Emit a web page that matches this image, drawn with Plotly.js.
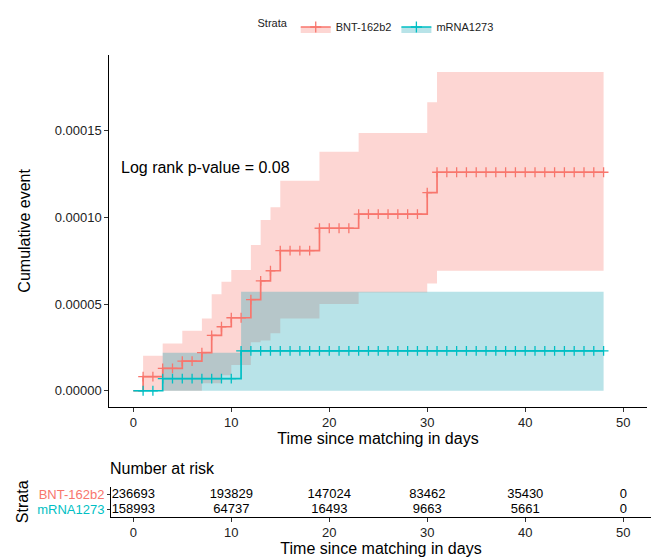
<!DOCTYPE html>
<html>
<head>
<meta charset="utf-8">
<script src="https://cdn.plot.ly/plotly-3.0.1.min.js"></script>
<style>html,body{margin:0;padding:0;background:#fff;}#chart{width:651px;height:560px;}</style>
</head>
<body>
<div id="chart"></div>
<script>
// ---- Data ----
const groups = ["BNT-162b2", "mRNA1273"];
const colors = ["#F8766D", "#00BFC4"];

// cumulative event step curves (event times, values after the step)
const bntTimes  = [0, 1, 3, 5, 7, 8, 9, 10, 12, 13, 14, 15, 19, 23, 30, 31, 48];
const bntValues = [0, 8.1e-6, 1.29e-5, 1.71e-5, 2.2e-5, 3.19e-5, 3.69e-5, 4.21e-5, 5.26e-5, 6.34e-5, 6.92e-5, 8.08e-5, 9.37e-5, 1.019e-4, 1.142e-4, 1.26e-4, 1.26e-4];
const bntUpper  = [0, 2.02e-5, 2.73e-5, 3.46e-5, 4.17e-5, 5.56e-5, 6.29e-5, 6.96e-5, 8.4e-5, 9.84e-5, 1.058e-4, 1.211e-4, 1.378e-4, 1.486e-4, 1.663e-4, 1.838e-4, 1.838e-4];
const bntLower  = [0, 0, 0, 0, 4.3e-6, 4.3e-6, 9e-6, 1.48e-5, 2.8e-5, 2.9e-5, 3.31e-5, 4.17e-5, 5.0e-5, 5.67e-5, 6.19e-5, 6.92e-5, 6.92e-5];

const mrnaTimes  = [0, 3, 11, 48];
const mrnaValues = [0, 7e-6, 2.3e-5, 2.3e-5];
const mrnaUpper  = [0, 2.19e-5, 5.71e-5, 5.71e-5];
const mrnaLower  = [0, 0, 0, 0];

// censoring marks (days)
const bntCensor  = [1,2,3,4,5,6,7,8,9,10,11,12,13,14,15,16,17,18,19,20,21,22,23,24,25,26,27,28,29,30,31,32,33,34,35,36,37,38,39,40,41,42,43,44,45,46,47,48];
const mrnaCensor = [1,2,3,4,5,6,7,8,9,10,11,12,13,14,15,16,17,18,19,20,21,22,23,24,25,26,27,28,29,30,31,32,33,34,35,36,37,38,39,40,41,42,43,44,45,46,47,48];

// number at risk table
const riskTimes = [0, 10, 20, 30, 40, 50];
const bntRisk  = [236693, 193829, 147024, 83462, 35430, 0];
const mrnaRisk = [158993, 64737, 16493, 9663, 5661, 0];

const pvalText = "Log rank p-value = 0.08";

// ---- helpers ----
function stepAt(times, vals, t) {
  let v = vals[0];
  for (let i = 0; i < times.length; i++) { if (times[i] <= t) v = vals[i]; }
  return v;
}

const FONT = "Liberation Sans, Arial, sans-serif";
const bandFill = ["rgba(248,118,109,0.3)", "rgba(20,162,180,0.3)"];

const traces = [];
function addBand(times, lo, up, i) {
  traces.push({x: times, y: lo, type: "scatter", mode: "lines", line: {width: 0, shape: "hv"},
    showlegend: false, hoverinfo: "skip"});
  traces.push({x: times, y: up, type: "scatter", mode: "lines", line: {width: 0, shape: "hv"},
    fill: "tonexty", fillcolor: bandFill[i], showlegend: false, hoverinfo: "skip"});
}
addBand(bntTimes, bntLower, bntUpper, 0);
addBand(mrnaTimes, mrnaLower, mrnaUpper, 1);

traces.push({x: bntTimes, y: bntValues, type: "scatter", mode: "lines",
  line: {color: colors[0], width: 1.7, shape: "hv"}, showlegend: false});
traces.push({x: mrnaTimes, y: mrnaValues, type: "scatter", mode: "lines",
  line: {color: colors[1], width: 1.7, shape: "hv"}, showlegend: false});

traces.push({x: bntCensor, y: bntCensor.map(t => stepAt(bntTimes, bntValues, t)), type: "scatter", mode: "markers",
  marker: {symbol: "cross-thin", size: 7, line: {color: colors[0], width: 1.3}, color: colors[0]}, showlegend: false});
traces.push({x: mrnaCensor, y: mrnaCensor.map(t => stepAt(mrnaTimes, mrnaValues, t)), type: "scatter", mode: "markers",
  marker: {symbol: "cross-thin", size: 7, line: {color: colors[1], width: 1.3}, color: colors[1]}, showlegend: false});

// legend entries
[0, 1].forEach(i => {
  traces.push({x: [null], y: [null], type: "scatter", mode: "lines+markers", name: groups[i],
    fill: "toself", fillcolor: bandFill[i],
    line: {color: colors[i], width: 1.5},
    marker: {symbol: "cross-thin", size: 8, line: {color: colors[i], width: 1.3}},
    showlegend: true});
});

// risk table text
traces.push({x: riskTimes, y: riskTimes.map(() => 2), xaxis: "x2", yaxis: "y2", type: "scatter", mode: "text",
  text: bntRisk.map(String), textfont: {family: FONT, size: 13, color: "#000"}, showlegend: false, hoverinfo: "skip"});
traces.push({x: riskTimes, y: riskTimes.map(() => 1), xaxis: "x2", yaxis: "y2", type: "scatter", mode: "text",
  text: mrnaRisk.map(String), textfont: {family: FONT, size: 13, color: "#000"}, showlegend: false, hoverinfo: "skip"});

const W = 651, H = 560;
const px = v => v / W, py = v => 1 - v / H;
const axisCommon = {showgrid: false, zeroline: false, showline: true, linecolor: "#000", linewidth: 1,
  ticks: "outside", ticklen: 4, tickcolor: "#333", tickfont: {family: FONT, size: 13, color: "#222"}};

const layout = {
  width: W, height: H, margin: {l: 0, r: 0, t: 0, b: 0},
  paper_bgcolor: "#fff", plot_bgcolor: "#fff",
  font: {family: FONT, color: "#000"},
  xaxis: Object.assign({}, axisCommon, {domain: [px(109.3), px(646.7)], range: [-2.45, 52.4], anchor: "y",
    tickvals: [0, 10, 20, 30, 40, 50],
    title: {text: "Time since matching in days", font: {family: FONT, size: 16, color: "#000"}, standoff: 2}}),
  yaxis: Object.assign({}, axisCommon, {domain: [py(406.7), py(55)], range: [-9.2e-6, 1.936e-4], anchor: "x",
    tickvals: [0, 5e-5, 1e-4, 1.5e-4], ticktext: ["0.00000", "0.00005", "0.00010", "0.00015"],
    title: {text: "Cumulative event", font: {family: FONT, size: 16, color: "#000"}, standoff: 20}}),
  xaxis2: Object.assign({}, axisCommon, {domain: [px(111), px(651)], range: [-2.28, 52.83], anchor: "y2",
    tickvals: [0, 10, 20, 30, 40, 50],
    title: {text: "Time since matching in days", font: {family: FONT, size: 16, color: "#000"}, standoff: 2}}),
  yaxis2: Object.assign({}, axisCommon, {domain: [py(516.8), py(486.8)], range: [0.5, 2.5], anchor: "x2",
    tickvals: [2, 1], ticklen: 3,
    ticktext: ['<span style="color:' + colors[0] + '">' + groups[0] + '</span>',
               '<span style="color:' + colors[1] + '">' + groups[1] + '</span>'],
    tickfont: {family: FONT, size: 13},
    title: {text: "Strata", font: {family: FONT, size: 16, color: "#000"}, standoff: 4}}),
  showlegend: true,
  legend: {orientation: "h", traceorder: "normal", x: px(377), xanchor: "center", y: py(27), yanchor: "middle",
    itemwidth: 30,
    title: {text: "Strata", side: "left", font: {family: FONT, size: 11, color: "#222"}},
    font: {family: FONT, size: 11, color: "#222"}, bgcolor: "rgba(0,0,0,0)"},
  annotations: [
    {text: pvalText, xref: "x", yref: "y", x: -1.46, y: 1.286e-4, xanchor: "left", yanchor: "middle",
     showarrow: false, font: {family: FONT, size: 16, color: "#000"}},
    {text: "Number at risk", xref: "paper", yref: "paper", x: px(108), y: py(468), xanchor: "left", yanchor: "middle",
     showarrow: false, font: {family: FONT, size: 16, color: "#000"}}
  ]
};

Plotly.newPlot("chart", traces, layout, {displayModeBar: false, staticPlot: true});
</script>
</body>
</html>
